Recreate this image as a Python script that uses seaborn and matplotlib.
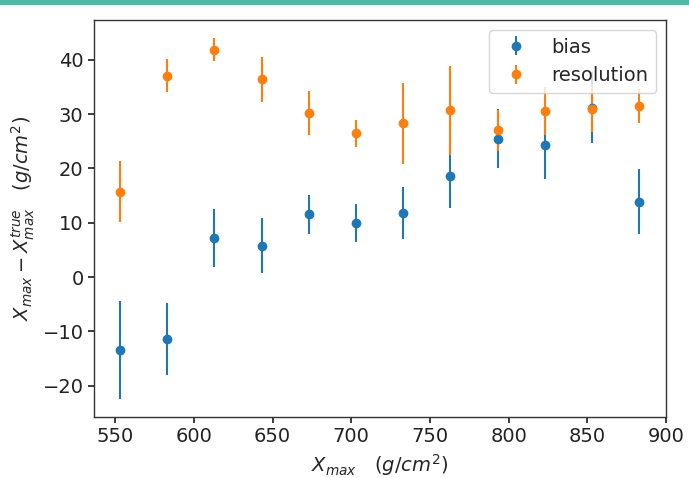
import matplotlib
matplotlib.use("Agg")
import matplotlib.pyplot as plt
import seaborn as sns
import numpy as np
from matplotlib.patches import Rectangle

# ---- data ----
xmax = [553, 583, 613, 643, 673, 703, 733, 763, 793, 823, 853, 883]
bias = [-13.4, -11.4, 7.2, 5.8, 11.6, 9.9, 11.8, 18.6, 25.5, 24.4, 31.2, 13.9]
bias_err = [9.0, 6.7, 5.3, 5.0, 3.6, 3.5, 4.7, 5.9, 5.4, 6.3, 6.6, 6.0]
resolution = [15.7, 37.1, 41.9, 36.4, 30.2, 26.5, 28.3, 30.7, 27.0, 30.6, 31.0, 31.5]
resolution_err = [5.6, 3.0, 2.1, 4.1, 4.0, 2.5, 7.4, 8.2, 3.7, 4.4, 4.2, 3.2]

sns.set_theme(style="ticks")
plt.rcParams['font.family'] = ['DejaVu Sans']
plt.rcParams['mathtext.fontset'] = 'dejavusans'

colors = sns.color_palette("tab10")

fig = plt.figure(figsize=(6.89, 4.78), dpi=100)
ax = fig.add_axes([0.1364, 0.128, 0.8302, 0.83])

ax.errorbar(xmax, bias, yerr=bias_err, fmt='o', color=colors[0],
            markersize=6, elinewidth=1.5, label='bias')
ax.errorbar(xmax, resolution, yerr=resolution_err, fmt='o', color=colors[1],
            markersize=6, elinewidth=1.5, label='resolution')

ax.set_xticks([550, 600, 650, 700, 750, 800, 850, 900])
ax.set_yticks([-20, -10, 0, 10, 20, 30, 40])
ax.tick_params(labelsize=14, colors='#222222', length=4)
for s in ax.spines.values():
    s.set_color('#333333')
    s.set_linewidth(1.0)

ax.set_xlabel(r'$X_{max}$   $(g/cm^2)$', fontsize=14)
ax.set_ylabel(r'$X_{max} - X_{max}^{true}$   $(g/cm^2)$', fontsize=14)

ax.legend(loc='upper right', fontsize=14)

# teal top band
fig.patches.append(Rectangle((0, 0.99), 1, 0.01, transform=fig.transFigure,
                             facecolor='#4fb9a5', edgecolor='none', zorder=10))

fig.savefig('out.png', dpi=100)
